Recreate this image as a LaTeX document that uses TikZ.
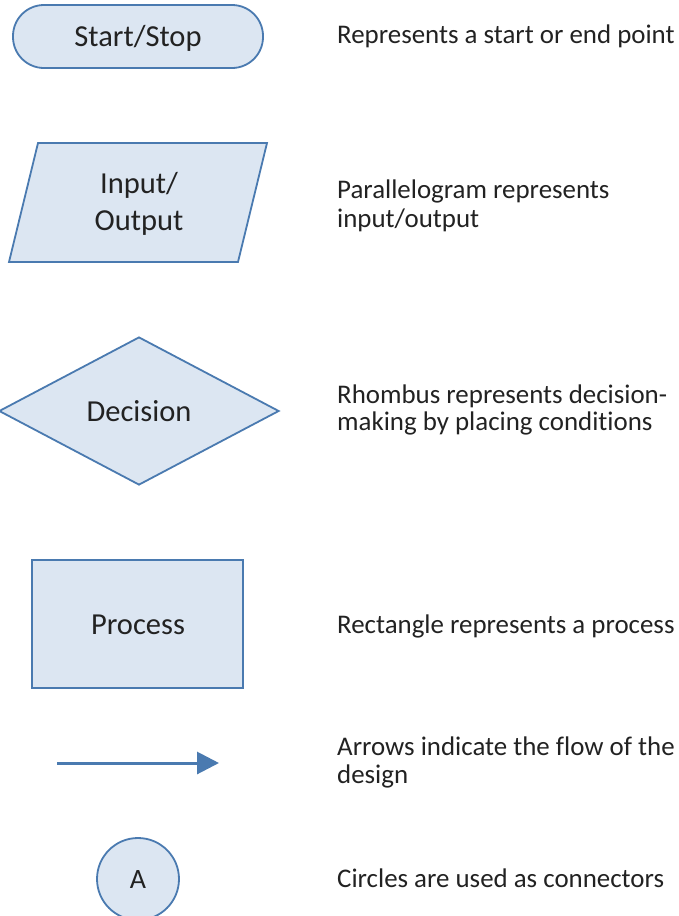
\documentclass[tikz,border=0pt]{standalone}
\usepackage{fontspec}
\setmainfont[Ligatures=NoCommon]{Carlito}
\usetikzlibrary{shapes.geometric,arrows.meta}
\definecolor{shfill}{HTML}{DCE6F2}
\definecolor{shline}{HTML}{4A7AB0}
\definecolor{txt}{HTML}{222222}
\tikzset{
  symb/.style={draw=shline, fill=shfill, line width=1.8pt},
  lbl/.style={text=txt, font=\fontsize{30.5}{34}\selectfont, inner sep=0pt},
  desc/.style={text=txt, font=\fontsize{26.9}{29}\selectfont, inner sep=0pt, anchor=base west},
  flow/.style={draw=shline, line width=3pt, -{Triangle[length=22pt,width=22pt]}}
}
\begin{document}
\begin{tikzpicture}[x=1pt,y=-1pt]
\useasboundingbox (0,0) rectangle (678,916);
\fill[white] (0,0) rectangle (678,916);
% Start/Stop
\node[symb, rounded corners=31pt, minimum width=250pt, minimum height=63pt, inner sep=0pt] (start) at (138,36.5) {};
\node[lbl, anchor=base] (startt) at (138,46) {Start/Stop};
% Input/Output
\coordinate (io1) at (9,262);
\coordinate (io2) at (38,143);
\coordinate (io3) at (267,143);
\coordinate (io4) at (238,262);
\draw[symb, line join=miter] (io1) -- (io2) -- (io3) -- (io4) -- cycle;
\node[lbl, anchor=base] (iot1) at (139,193) {Input/};
\node[lbl, anchor=base] (iot2) at (139,230) {Output};
% Decision
\node[symb, diamond, minimum width=280pt, minimum height=148pt, inner sep=0pt] (dec) at (139,411) {};
\node[lbl, anchor=base] (dect) at (139,421) {Decision};
% Process
\node[symb, rectangle, minimum width=211pt, minimum height=128pt, inner sep=0pt] (proc) at (137.5,624) {};
\node[lbl, anchor=base] (proct) at (138,634) {Process};
% Arrow
\coordinate (a1) at (57,763);
\coordinate (a2) at (219,763);
\draw[flow] (a1) -- (a2);
% Connector
\node[symb, circle, minimum size=82pt, inner sep=0pt] (conn) at (138,879) {};
\node[lbl, anchor=base, font=\fontsize{28}{32}\selectfont] (connt) at (138,888) {A};
% Descriptions
\node[desc] (d1) at (337,43) {Represents a start or end point};
\node[desc] (d2a) at (337,198) {Parallelogram represents};
\node[desc] (d2b) at (337,227) {input/output};
\node[desc] (d3a) at (337,403) {Rhombus represents decision-};
\node[desc] (d3b) at (337,430) {making by placing conditions};
\node[desc] (d4) at (337,633) {Rectangle represents a process};
\node[desc] (d5a) at (337,755) {Arrows indicate the flow of the};
\node[desc] (d5b) at (337,783) {design};
\node[desc] (d6) at (337,887) {Circles are used as connectors};
\end{tikzpicture}
\end{document}
